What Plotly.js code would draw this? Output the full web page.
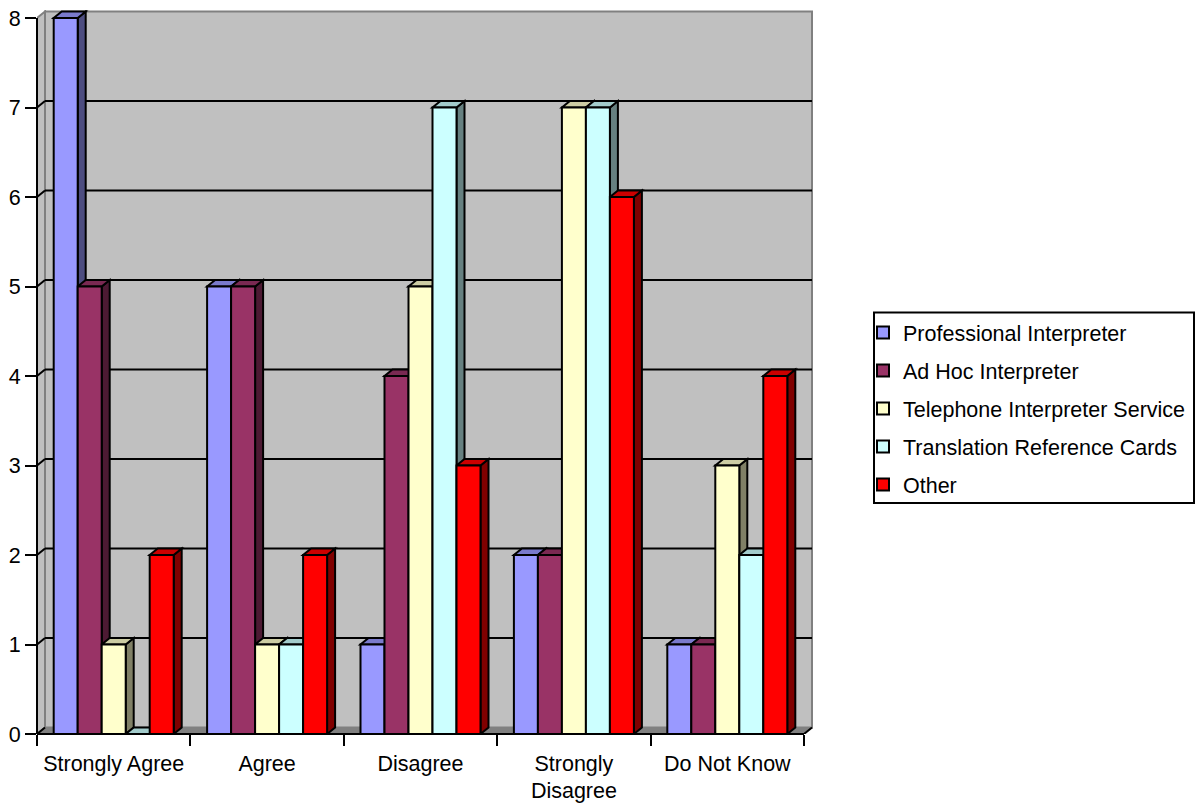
<!DOCTYPE html>
<html>
<head>
<meta charset="utf-8">
<script src="https://cdn.plot.ly/plotly-3.0.1.min.js"></script>
<style>html,body{margin:0;padding:0;background:#fff}</style>
</head>
<body>
<div id="chart" style="width:1198px;height:808px"></div>
<script>
const categories = ["Strongly Agree", "Agree", "Disagree", "Strongly<br>Disagree", "Do Not Know"];
const professional = [8, 5, 1, 2, 1];
const adHoc = [5, 5, 4, 2, 1];
const telephone = [1, 1, 5, 7, 3];
const translation = [0, 1, 7, 7, 2];
const other = [2, 2, 3, 6, 4];
const seriesNames = ["Professional Interpreter", "Ad Hoc Interpreter", "Telephone Interpreter Service", "Translation Reference Cards", "Other"];
const frontColors = ["#9999ff", "#993366", "#ffffcc", "#ccffff", "#ff0000"];
const topColors = ["#7a7acc", "#7a2952", "#cccca3", "#a3cccc", "#cc0000"];
const sideColors = ["#4d4d80", "#4d1a33", "#808066", "#668080", "#800000"];
const yTicks = [0, 1, 2, 3, 4, 5, 6, 7, 8];

const seriesValues = [professional, adHoc, telephone, translation, other];
const W = 1198, H = 808, L = 37, R = 815, T = 10, B = 734;
const pxX = 153.4, pxY = 89.5;
const dx = 8 / pxX, dy = 6.5 / pxY;
const barW = 24 / pxX;
const xMin = -0.5, xMax = xMin + (R - L) / pxX, yMax = (B - T) / pxY;
const xEnd = categories.length - 0.5, yEnd = yTicks[yTicks.length - 1];
const catPos = categories.map((_, i) => i);
const boundaries = categories.map((_, i) => i - 0.5).concat([xEnd]);
const GRAY = "#808080";

function poly(points, fill, line, width) {
  const path = points.map((p, i) => (i ? "L" : "M") + p[0] + "," + p[1]).join(" ") + " Z";
  return {type: "path", xref: "x", yref: "y", path, fillcolor: fill, layer: "below",
          line: {color: line, width}};
}
function seg(x0, y0, x1, y1, color, width, xref, yref) {
  return {type: "line", xref: xref || "x", yref: yref || "y", x0, y0, x1, y1, layer: "below",
          line: {color, width}};
}

const shapes = [
  poly([[xMin + dx, dy], [xEnd + dx, dy], [xEnd + dx, yEnd + dy], [xMin + dx, yEnd + dy]], "#c0c0c0", GRAY, 2),
  poly([[xMin, 0], [xMin + dx, dy], [xMin + dx, yEnd + dy], [xMin, yEnd]], "#c0c0c0", GRAY, 2),
  poly([[xMin, 0], [xEnd, 0], [xEnd + dx, dy], [xMin + dx, dy]], GRAY, GRAY, 1)
];
yTicks.slice(1, -1).forEach(v => {
  shapes.push(seg(xMin, v, xMin + dx, v + dy, "#000", 2));
  shapes.push(seg(xMin + dx, v + dy, xEnd + dx, v + dy, "#000", 2));
});
shapes.push(seg(xMin, 0, xMin + dx, dy, "#000", 2));
shapes.push(seg(xEnd, 0, xEnd + dx, dy, "#000", 2));

seriesValues.forEach((vals, s) => {
  vals.forEach((v, c) => {
    const x0 = c - 2.5 * barW + s * barW, x1 = x0 + barW;
    shapes.push(poly([[x1, 0], [x1 + dx, dy], [x1 + dx, v + dy], [x1, v]], sideColors[s], "#000", 2));
    shapes.push(poly([[x0, v], [x1, v], [x1 + dx, v + dy], [x0 + dx, v + dy]], topColors[s], "#000", 2));
  });
});

shapes.push({type: "line", xref: "paper", yref: "y", x0: 0, x1: 0, y0: 0, y1: yEnd, layer: "above", line: {color: "#000", width: 2}});
shapes.push({type: "line", xref: "x", yref: "paper", x0: xMin, x1: xEnd, y0: 0, y1: 0, layer: "above", line: {color: "#000", width: 2}});
const legendLeft = (874 - L) / (R - L), legendRight = (1194 - L) / (R - L);
const legendTop = (B - 312.5) / (B - T), legendBottom = (B - 503) / (B - T);
shapes.push({type: "rect", xref: "paper", yref: "paper", x0: legendLeft, x1: legendRight, y0: legendBottom, y1: legendTop,
             layer: "below", fillcolor: "#fff", line: {color: "#000", width: 2}});

const data = seriesValues.map((vals, s) => ({
  type: "bar",
  name: seriesNames[s],
  legendgroup: "s" + s,
  x: catPos,
  y: vals,
  cliponaxis: false,
  hoverinfo: "x+y+name",
  marker: {color: frontColors[s], line: {color: "#000", width: 2}}
}));

const font = {family: '"Liberation Sans", Arial, sans-serif', size: 21.5, color: "#000"};
const layout = {
  width: W, height: H, autosize: false,
  margin: {l: L, r: W - R, t: T, b: H - B, pad: 0, autoexpand: false},
  paper_bgcolor: "#fff", plot_bgcolor: "#fff",
  font,
  barmode: "group",
  bargap: 1 - 5 * barW,
  bargroupgap: 0,
  showlegend: true,
  legend: {
    x: (863 - L) / (R - L), xanchor: "left",
    y: (B - 312) / (B - T), yanchor: "top",
    bgcolor: "rgba(0,0,0,0)", borderwidth: 0,
    tracegroupgap: 7.05, traceorder: "grouped",
    font
  },
  xaxis: {
    range: [xMin, xMax], tickmode: "array", tickvals: catPos, ticktext: categories,
    ticks: "", ticklen: 0, ticklabelstandoff: 14, showgrid: false, zeroline: false, showline: false,
    tickangle: 0, tickfont: font, fixedrange: true,
    minor: {tickmode: "array", tickvals: boundaries, ticks: "outside", ticklen: 11, tickwidth: 2, tickcolor: "#000", showgrid: false}
  },
  yaxis: {
    range: [0, yMax], tickmode: "array", tickvals: yTicks, ticktext: yTicks.map(String),
    ticks: "outside", ticklen: 11, tickwidth: 2, tickcolor: "#000",
    showgrid: false, zeroline: false, showline: false, tickfont: font, fixedrange: true
  },
  shapes
};
Plotly.newPlot("chart", data, layout, {displayModeBar: false});
</script>
</body>
</html>
